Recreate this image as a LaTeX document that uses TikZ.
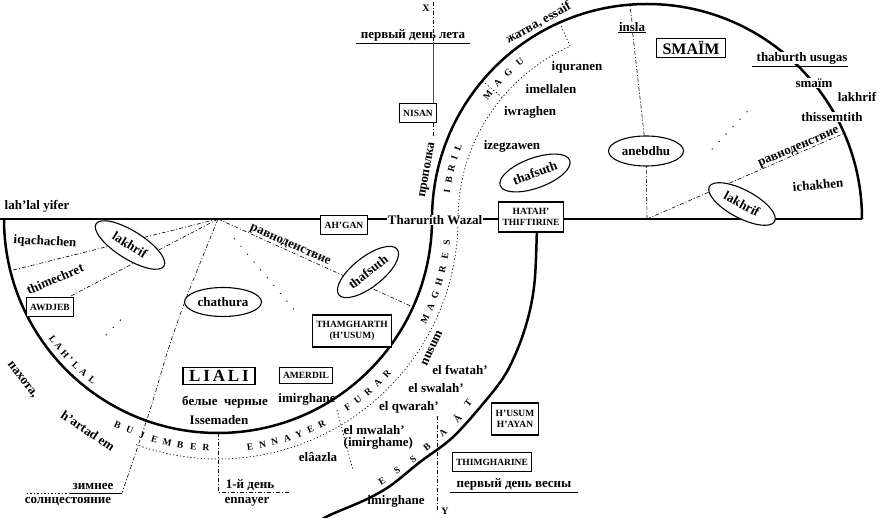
\documentclass[tikz,border=0pt]{standalone}
\usepackage{fontspec}
\setmainfont{Liberation Serif}
\usetikzlibrary{shapes.geometric,calc}
\pgfdeclarelayer{bg}
\pgfsetlayers{bg,main}
\begin{document}
\begin{tikzpicture}[x=1pt,y=-1pt,
  lab/.style={font=\bfseries\fontsize{13}{14}\selectfont, inner sep=0.5pt},
  wlab/.style={lab, fill=white},
  sm/.style={font=\bfseries\fontsize{10}{11}\selectfont, inner sep=0.5pt},
  box/.style={draw, line width=1.2pt, fill=white, font=\bfseries\fontsize{9.5}{10.5}\selectfont, inner xsep=4pt, inner ysep=3pt, minimum height=19pt, align=center},
  bigbox/.style={draw, line width=1.7pt, fill=white, font=\bfseries\fontsize{17}{17}\selectfont, inner xsep=6pt, inner ysep=3pt},
  oval/.style={ellipse, draw, line width=1.1pt, fill=white, font=\bfseries\fontsize{13}{13}\selectfont, inner sep=0pt, minimum width=75pt, minimum height=30pt},
  mon/.style={font=\bfseries\fontsize{9.5}{9.5}\selectfont, inner sep=0pt},
  heavy/.style={line width=2.5pt},
  base/.style={line width=1.2pt},
  ddash/.style={line width=0.6pt, dash pattern=on 4pt off 2pt on 1pt off 2pt},
  dotln/.style={line width=0.7pt, dash pattern=on 1.2pt off 2.3pt},
  sparse/.style={line width=0.8pt, dash pattern=on 1.2pt off 9pt},
  uline/.style={line width=0.7pt}
]
\useasboundingbox (0,0) rectangle (891,518);
\coordinate (c1) at (218,219);
\coordinate (c2) at (647,219);
\coordinate (L0) at (0,219);
\coordinate (R0) at (862,219);
\coordinate (xl) at (433,0);

% ---------- left half ----------
\node[lab] (lly) at (37,206) {lah’lal yifer};
\node[lab, rotate=-3] (iqa) at (45,242) {iqachachen};
\node[lab, rotate=23] (thim) at (55,279) {thimechret};
\node[oval, rotate=-32, minimum width=80pt, minimum height=28pt] (lakhL) at (130,245) {lakhrif};
\node[box] (awdjeb) at (50,307) {AWDJEB};
\node[oval, minimum width=77pt, minimum height=29pt] (chat) at (223,302) {chathura};
\node[lab, rotate=-24] (eqL) at (290,246) {равноденствие};
\node[oval, rotate=38, minimum width=74pt] (thafL) at (368,272) {thafsuth};
\node[box] (ahgan) at (344,225) {AH’GAN};
\node[wlab] (tw) at (435,220) {Tharurith Wazal};
\node[box, minimum height=30pt] (hatah) at (531,217) {HATAH’\\THIFTIRINE};
\node[box, minimum height=32pt] (thamg) at (352,331) {THAMGHARTH\\(H’USUM)};
\node[bigbox] (liali) at (219,376) {L\,I\,A\,L\,I};
\node[box, minimum height=16pt, line width=1pt] (amerdil) at (306,375) {AMERDIL};
\node[lab] (bel) at (225,402) {белые\ \ черные};
\node[lab] (iss) at (219,420) {Issemaden};
\node[lab] (imA) at (307,399) {imirghane};
\node[lab, rotate=-52] (pax) at (22,380) {пахота,};
\node[lab, rotate=-34] (hart) at (88,431) {h’artad em};
\node[lab] (zim) at (93,486) {зимнее};
\node[lab] (soln) at (68,502) {солнцестояние};
\node[lab] (den1) at (250,485) {1-й день};
\node[lab] (enn) at (247,502) {ennayer};
\node[lab] (elaz) at (318,457) {elâazla};
\node[lab, anchor=west] (mwa) at (343,430) {el mwalah’};
\node[lab, anchor=west] (imgh) at (343,443) {(imirghame)};
\node[lab] (qwa) at (409,407) {el qwarah’};
\node[lab] (swa) at (436,388) {el swalah’};
\node[lab] (fwa) at (460,370) {el fwatah’};
\node[lab, rotate=65] (nus) at (432,348) {nusum};
\node[box, minimum height=32pt] (husum) at (515,419) {H’USUM\\H’AYAN};
\node[box] (thimg) at (492,462) {THIMGHARINE};
\node[lab] (vesn) at (514,484) {первый день весны};
\node[lab] (imB) at (396,501) {imirghane};
\node[sm] (Y) at (445,511) {Y};
\node[sm] (X) at (426,8) {X};
\node[lab] (leto) at (413,35) {первый день лета};
\node[box] (nisan) at (418,113) {NISAN};
\node[lab, rotate=80] (prop) at (428,170) {прополка};

% ---------- right half ----------
\node[lab, rotate=29] (zhat) at ($(c2)+(241:224)$) {жатва, essaif};
\node[lab] (izeg) at (512,146) {izegzawen};
\node[lab] (iwr) at (530,112) {iwraghen};
\node[lab] (imel) at (551,89) {imellalen};
\node[lab] (iqur) at (577,67) {iquranen};
\node[lab] (insla) at (632,27) {insla};
\node[bigbox, font=\bfseries\fontsize{16}{16}\selectfont, line width=1.4pt] (smaim) at (691,48) {SMAÏM};
\node[wlab] (thab) at (802,58) {thaburth usugas};
\node[wlab] (smaim2) at (814,83) {smaïm};
\node[lab] (lakh2) at (857,97) {lakhrif};
\node[wlab] (thiss) at (832,117) {thissemtith};
\node[lab, rotate=23] (eqR) at (799,148) {равноденствие};
\node[lab, rotate=5] (ichak) at (818,185) {ichakhen};
\node[oval] (aneb) at (646,151) {anebdhu};
\node[oval, rotate=20, minimum width=74pt] (thafR) at (535,173) {thafsuth};
\node[oval, rotate=-28, minimum width=74pt, minimum height=28pt] (lakhR) at (742,204) {lakhrif};

% ---------- month names ----------
\foreach \ch/\ang in {B/116,U/112.7,J/109.4,E/106.1,M/102.8,B/99.5,E/96.2,R/93}
  \node[mon, rotate=90-\ang] at ($(c1)+(\ang:229)$) {\ch};
\foreach \ch/\ang in {E/82,N/78.8,N/75.7,A/72.5,Y/69.4,E/66.3,R/63.2}
  \node[mon, rotate=90-\ang] at ($(c1)+(\ang:230)$) {\ch};
\foreach \ch/\ang in {F/55.5,U/52.3,R/49,A/45.8,R/42.5}
  \node[mon, rotate=90-\ang] at ($(c1)+(\ang:229)$) {\ch};
\foreach \ch/\ang in {M/25.8,A/22.5,G/19.2,H/15.9,R/12.6,E/9.3,S/6}
  \node[mon, rotate=90-\ang] at ($(c1)+(\ang:230)$) {\ch};
\foreach \ch/\ang in {L/144,A/141.3,H/138.6,’/136.4,L/134.2,A/131.2,L/128}
  \node[mon, rotate=90-\ang] at ($(c1)+(\ang:204)$) {\ch};
\foreach \ch/\ang in {I/188,B/191.2,R/194.4,I/197.6,L/200.8}
  \node[mon, rotate=270-\ang] at ($(c2)+(\ang:202)$) {\ch};
\foreach \ch/\ang in {M/218,A/222.3,G/226.6,U/231}
  \node[mon, rotate=270-\ang] at ($(c2)+(\ang:202)$) {\ch};
\foreach \ch/\xx/\yy/\rr in {E/382/481/30,S/397/470/34,S/413/459/37,B/427/447/40,A/443/433/44,Â/457/418/48,T/468/403/52}
  \node[mon, rotate=\rr] at (\xx,\yy) {\ch};

% ---------- underlines ----------
\draw[uline] (insla.south west) -- (insla.south east);
\draw[uline] ($(thab.south west)+(-4,1.5)$) -- ($(thab.south east)+(0,1.5)$);
\draw[uline] ($(leto.south west)+(-4,1.5)$) -- ($(leto.south east)+(4,1.5)$);
\draw[uline] ($(vesn.south west)+(-6,1.5)$) -- ($(vesn.south east)+(6,1.5)$);

\begin{pgfonlayer}{bg}
\fill[white] (0,0) rectangle (891,518);
% S-shaped main arc
\draw[heavy] (4,219) arc[start angle=180,end angle=0,radius=214]
                     arc[start angle=180,end angle=360,radius=215];
% outer arc
\draw[heavy] plot[smooth, tension=0.55] coordinates {(537,226) (535,277) (530,310) (520,343) (505,375) (482,405) (452,438) (420,462) (390,486) (365,500) (330,515) (316,523)};
% month band
\draw[dotln] ($(c1)+(110:240)$) arc[start angle=110,end angle=0,radius=240]
                                arc[start angle=180,end angle=246,radius=189];
\draw[dotln] ($(c2)+(246:189)$) -- ($(c2)+(246:214)$);
\draw[dotln] ($(c2)+(220:189)$) -- ($(c2)+(220:214)$);
% base line
\draw[base] (L0) -- (ahgan.west |- L0);
\draw[base] (ahgan.east |- L0) -- (tw.west |- L0);
\draw[base] (tw.east |- L0) -- (hatah.west |- L0);
\draw[base] (hatah.east |- L0) -- (R0);
% radial lines, left
\draw[ddash] (c1) -- ++(166:211);
\draw[ddash] (c1) -- (awdjeb);
\draw[sparse] ($(c1)+(134:140)$) -- ($(c1)+(134:168)$);
\coordinate (ws) at (122,493);
\draw[ddash] plot[smooth] coordinates {(c1) (187,296) (168,350) (150,410) (ws)};
\draw[uline] (ws) -- (70,493);
\draw[dotln] (70,493) -- (25,493);
\draw[ddash] ($(c1)+(90:214)$) -- (218,492) -- (290,492);
\draw[sparse] ($(c1)+(50:25)$) -- ($(c1)+(50:120)$);
\draw[dotln] (337,410) -- (353,470);
\draw[ddash] (c1) -- ++(24.3:214);
% radial lines, right
\draw[ddash] (c2) -- (aneb) -- (insla);
\draw[ddash] (insla.north) -- (630,5);
\draw[ddash] (c2) -- ++(336.5:215);
\draw[sparse] ($(c2)+(313:95)$) -- ($(c2)+(313:150)$);
% X - Y axis
\draw[ddash] (433,2) -- (433,41);
\draw[line width=0.9pt, black!70] (433,42) -- (nisan.north -| xl);
\draw[ddash] (nisan.south -| xl) -- (433,138);
\draw[ddash] (437,416) -- (437,512);
\end{pgfonlayer}
\end{tikzpicture}
\end{document}
